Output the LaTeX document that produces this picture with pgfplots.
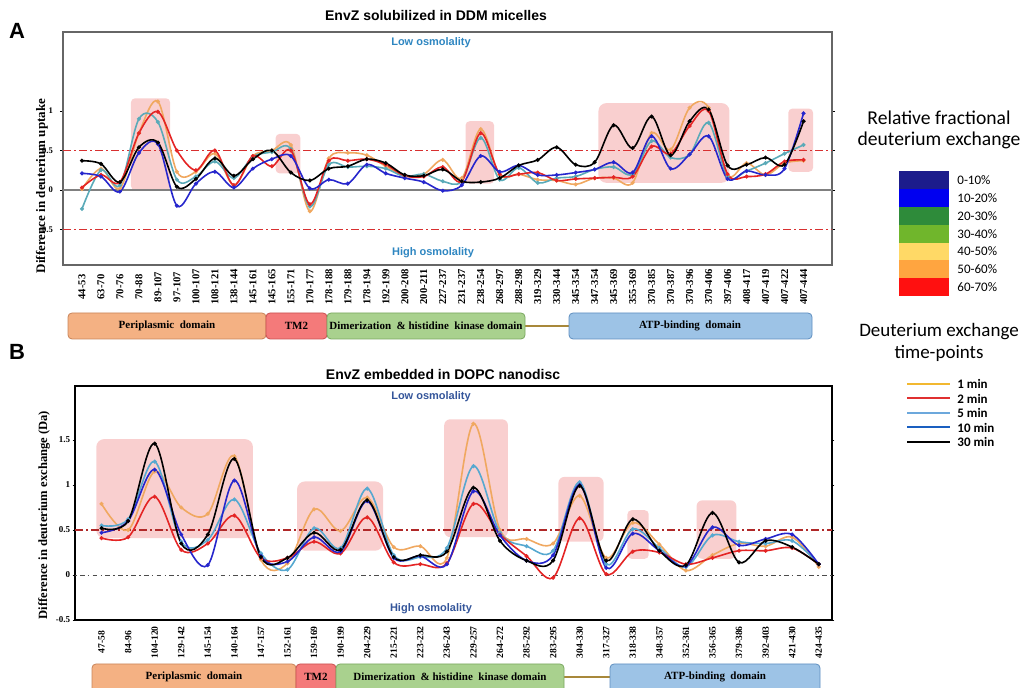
\documentclass[border=0pt]{standalone}
\usepackage{pgfplots}
\pgfplotsset{compat=1.18}
\usepackage{fontspec}
\setmainfont{Liberation Serif}
\newfontfamily\arialf{Liberation Sans}
\newfontfamily\calf{Carlito}
\definecolor{cOr}{HTML}{F0A860}
\definecolor{cRd}{HTML}{E42424}
\definecolor{cTl}{HTML}{5AAAB8}
\definecolor{cBl}{HTML}{2626CC}
\definecolor{cTlB}{HTML}{56A8D0}
\definecolor{cPink}{HTML}{F9CFCF}
\definecolor{cDash}{HTML}{D83030}
\definecolor{cDashB}{HTML}{B02828}
\definecolor{cLowA}{HTML}{2E86C1}
\definecolor{cLowB}{HTML}{34559A}
\definecolor{dPeri}{HTML}{F4B183}
\definecolor{dPeriB}{HTML}{C8845A}
\definecolor{dTM}{HTML}{F47A7A}
\definecolor{dTMB}{HTML}{C85050}
\definecolor{dDim}{HTML}{A9D18E}
\definecolor{dDimB}{HTML}{7AA860}
\definecolor{dATP}{HTML}{9DC3E6}
\definecolor{dATPB}{HTML}{5F8FC0}
\definecolor{dLink}{HTML}{A8883A}
\definecolor{lA}{HTML}{1C1C8C}
\definecolor{lB}{HTML}{0000F0}
\definecolor{lC}{HTML}{2E8B3A}
\definecolor{lD}{HTML}{70B62C}
\definecolor{lE}{HTML}{FFD966}
\definecolor{lF}{HTML}{FFA540}
\definecolor{lG}{HTML}{FF1010}
\definecolor{t1}{HTML}{F2B830}
\definecolor{t2}{HTML}{E03030}
\definecolor{t5}{HTML}{6CA8DC}
\definecolor{t10}{HTML}{1A5FC0}
\pgfplotsset{ser/.style={smooth, tension=0.55, line width=0.8pt, mark=*, mark size=0.55pt}}
\begin{document}
\begin{tikzpicture}
\useasboundingbox (0,0) rectangle (510.5pt,344pt);
% ---------------- Panel A ----------------
\begin{axis}[
 at={(31.5pt,211.5pt)}, anchor=south west, scale only axis,
 width=384.5pt, height=116.5pt,
 xmin=-1, xmax=39.5, ymin=-0.95, ymax=2.0,
 axis line style={draw=gray!80!black, line width=0.6pt},
 xtick={0,...,38},
 xticklabels={44-53,63-70,70-76,70-88,89-107,97-107,100-107,108-121,138-144,145-161,145-165,155-171,170-177,178-188,179-188,178-194,192-199,200-208,200-211,227-237,231-237,238-254,268-297,288-298,319-329,330-344,345-354,347-354,345-369,355-369,370-385,370-387,370-396,370-406,397-406,408-417,407-419,407-422,407-444},
 xtick style={draw=none},
 ytick={-0.5,0,0.5,1}, yticklabels={-0.5,0,0.5,1},
 ytick style={black, line width=0.3pt}, tick align=outside, major tick length=1.5pt,
 yticklabel style={font=\fontsize{4.3}{4.5}\selectfont\bfseries},
 xticklabel style={font=\fontsize{5.3}{6}\selectfont\bfseries, yshift=-9.5pt, rotate=90, anchor=center},
]
\fill[cPink, rounded corners=2pt] (axis cs:2.58,0) rectangle (axis cs:4.64,1.16);
\fill[cPink, rounded corners=2pt] (axis cs:10.2,0.21) rectangle (axis cs:11.5,0.71);
\fill[cPink, rounded corners=2pt] (axis cs:20.2,0.08) rectangle (axis cs:21.7,0.87);
\fill[cPink, rounded corners=4pt] (axis cs:27.2,0.09) rectangle (axis cs:34.1,1.10);
\fill[cPink, rounded corners=2pt] (axis cs:37.2,0.23) rectangle (axis cs:38.5,1.03);
\draw[draw=gray, line width=0.6pt] (axis cs:-1,0) -- (axis cs:39.5,0);
\draw[draw=cDash, line width=0.85pt, dash pattern=on 4pt off 1.5pt on 1pt off 1.5pt] (axis cs:-1,0.5) -- (axis cs:39.5,0.5);
\draw[draw=cDash, line width=0.85pt, dash pattern=on 4pt off 1.5pt on 1pt off 1.5pt] (axis cs:-1,-0.5) -- (axis cs:39.5,-0.5);
% 1 min
\addplot[ser, cOr] coordinates {(0,0.01)(1,0.27)(2,0.02)(3,0.72)(4,1.12)(5,0.23)(6,0.23)(7,0.46)(8,0.06)(9,0.43)(10,0.50)(11,0.57)(12,-0.27)(13,0.40)(14,0.47)(15,0.44)(16,0.30)(17,0.18)(18,0.20)(19,0.38)(20,0.15)(21,0.77)(22,0.19)(23,0.20)(24,0.13)(25,0.12)(26,0.07)(27,0.15)(28,0.15)(29,0.09)(30,0.72)(31,0.51)(32,1.04)(33,1.04)(34,0.19)(35,0.34)(36,0.19)(37,0.34)(38,0.37)};
% 5 min
\addplot[ser, cTl] coordinates {(0,-0.24)(1,0.25)(2,0.06)(3,0.90)(4,0.86)(5,0.13)(6,0.17)(7,0.36)(8,0.15)(9,0.42)(10,0.48)(11,0.52)(12,-0.21)(13,0.32)(14,0.29)(15,0.30)(16,0.27)(17,0.17)(18,0.20)(19,0.11)(20,0.11)(21,0.66)(22,0.13)(23,0.28)(24,0.09)(25,0.15)(26,0.17)(27,0.26)(28,0.29)(29,0.20)(30,0.62)(31,0.41)(32,0.45)(33,0.85)(34,0.17)(35,0.24)(36,0.34)(37,0.46)(38,0.57)};
% 2 min
\addplot[ser, cRd] coordinates {(0,0.03)(1,0.19)(2,0.10)(3,0.72)(4,0.99)(5,0.50)(6,0.25)(7,0.50)(8,0.06)(9,0.43)(10,0.30)(11,0.50)(12,-0.18)(13,0.37)(14,0.37)(15,0.39)(16,0.32)(17,0.18)(18,0.17)(19,0.29)(20,0.11)(21,0.72)(22,0.20)(23,0.20)(24,0.22)(25,0.12)(26,0.14)(27,0.15)(28,0.16)(29,0.17)(30,0.55)(31,0.46)(32,0.81)(33,1.00)(34,0.20)(35,0.17)(36,0.20)(37,0.36)(38,0.38)};
% 10 min
\addplot[ser, cBl] coordinates {(0,0.21)(1,0.17)(2,-0.02)(3,0.47)(4,0.58)(5,-0.20)(6,0.08)(7,0.23)(8,0.03)(9,0.27)(10,0.39)(11,0.43)(12,0.02)(13,0.13)(14,0.08)(15,0.32)(16,0.21)(17,0.15)(18,0.10)(19,-0.01)(20,0.06)(21,0.43)(22,0.23)(23,0.31)(24,0.19)(25,0.19)(26,0.22)(27,0.26)(28,0.35)(29,0.22)(30,0.68)(31,0.27)(32,0.45)(33,0.68)(34,0.14)(35,0.24)(36,0.19)(37,0.27)(38,0.97)};
% 30 min
\addplot[ser, black] coordinates {(0,0.37)(1,0.33)(2,0.10)(3,0.54)(4,0.60)(5,0.04)(6,0.14)(7,0.40)(8,0.18)(9,0.39)(10,0.50)(11,0.22)(12,0.12)(13,0.27)(14,0.30)(15,0.39)(16,0.34)(17,0.19)(18,0.18)(19,0.26)(20,0.11)(21,0.10)(22,0.15)(23,0.31)(24,0.38)(25,0.54)(26,0.32)(27,0.35)(28,0.82)(29,0.53)(30,0.93)(31,0.44)(32,0.87)(33,1.02)(34,0.31)(35,0.32)(36,0.41)(37,0.32)(38,0.87)};
\end{axis}
% ---------------- Panel B ----------------
\begin{axis}[
 at={(37.5pt,34pt)}, anchor=south west, scale only axis,
 width=378.5pt, height=117pt,
 xmin=-1, xmax=27.5, ymin=-0.5, ymax=2.1,
 axis line style={draw=black, line width=0.8pt},
 xtick={0,...,27},
 xticklabels={47-58,84-96,104-120,129-142,145-154,140-164,147-157,152-161,159-169,190-199,204-229,215-221,223-232,236-243,229-257,264-272,285-292,283-295,304-330,317-327,318-338,348-357,352-361,356-365,379-386,392-403,421-430,424-435},
 xtick style={draw=none},
 ytick={-0.5,0,0.5,1,1.5}, yticklabels={-0.5,0,0.5,1,1.5},
 ytick style={black, line width=0.3pt}, tick align=outside, major tick length=1.2pt,
 yticklabel style={font=\fontsize{4.5}{4.5}\selectfont\bfseries, inner sep=1pt},
 xticklabel style={font=\fontsize{4.8}{5}\selectfont\bfseries, yshift=-10pt, rotate=90, anchor=center},
]
\fill[cPink, rounded corners=4pt] (axis cs:-0.2,0.41) rectangle (axis cs:5.7,1.51);
\fill[cPink, rounded corners=4pt] (axis cs:7.36,0.27) rectangle (axis cs:10.6,1.04);
\fill[cPink, rounded corners=3pt] (axis cs:12.9,0.42) rectangle (axis cs:15.3,1.73);
\fill[cPink, rounded corners=3pt] (axis cs:17.2,0.37) rectangle (axis cs:18.9,1.09);
\fill[cPink, rounded corners=2pt] (axis cs:19.8,0.18) rectangle (axis cs:20.6,0.72);
\fill[cPink, rounded corners=3pt] (axis cs:22.4,0.18) rectangle (axis cs:23.9,0.83);
\draw[draw=gray!60!black, line width=0.4pt, dash pattern=on 0.8pt off 1.6pt on 2.4pt off 1.6pt] (axis cs:-1,0) -- (axis cs:27.5,0);
\draw[draw=cDashB, line width=0.8pt, dash pattern=on 4pt off 1.5pt on 1pt off 1.5pt] (axis cs:-1,0.5) -- (axis cs:27.5,0.5);
% 1 min
\addplot[ser, cOr] coordinates {(0,0.79)(1,0.50)(2,1.15)(3,0.75)(4,0.68)(5,1.32)(6,0.17)(7,0.13)(8,0.73)(9,0.49)(10,0.86)(11,0.31)(12,0.32)(13,0.19)(14,1.68)(15,0.50)(16,0.40)(17,0.35)(18,0.88)(19,0.19)(20,0.58)(21,0.34)(22,0.05)(23,0.22)(24,0.35)(25,0.32)(26,0.42)(27,0.09)};
% 5 min
\addplot[ser, cTlB] coordinates {(0,0.55)(1,0.62)(2,1.26)(3,0.37)(4,0.39)(5,0.84)(6,0.24)(7,0.06)(8,0.52)(9,0.30)(10,0.96)(11,0.22)(12,0.20)(13,0.30)(14,1.21)(15,0.47)(16,0.32)(17,0.27)(18,1.03)(19,0.12)(20,0.51)(21,0.30)(22,0.09)(23,0.44)(24,0.37)(25,0.35)(26,0.38)(27,0.12)};
% 2 min
\addplot[ser, cRd] coordinates {(0,0.41)(1,0.42)(2,0.87)(3,0.28)(4,0.35)(5,0.66)(6,0.19)(7,0.19)(8,0.37)(9,0.24)(10,0.64)(11,0.14)(12,0.12)(13,0.13)(14,0.79)(15,0.45)(16,0.21)(17,-0.03)(18,0.63)(19,0.01)(20,0.26)(21,0.25)(22,0.12)(23,0.19)(24,0.27)(25,0.27)(26,0.30)(27,0.12)};
% 10 min
\addplot[ser, cBl] coordinates {(0,0.47)(1,0.60)(2,1.17)(3,0.45)(4,0.11)(5,1.05)(6,0.21)(7,0.15)(8,0.42)(9,0.26)(10,0.82)(11,0.19)(12,0.21)(13,0.12)(14,0.93)(15,0.44)(16,0.16)(17,0.22)(18,1.00)(19,0.08)(20,0.46)(21,0.27)(22,0.10)(23,0.53)(24,0.33)(25,0.40)(26,0.45)(27,0.12)};
% 30 min
\addplot[ser, black] coordinates {(0,0.52)(1,0.60)(2,1.46)(3,0.35)(4,0.45)(5,1.29)(6,0.20)(7,0.19)(8,0.47)(9,0.28)(10,0.83)(11,0.20)(12,0.22)(13,0.26)(14,0.97)(15,0.38)(16,0.16)(17,0.16)(18,0.99)(19,0.16)(20,0.62)(21,0.27)(22,0.11)(23,0.69)(24,0.14)(25,0.38)(26,0.31)(27,0.12)};
\end{axis}
% ---------------- annotations in pixel units ----------------
\begin{scope}[x=0.5pt, y=-0.5pt, shift={(0pt,344pt)}]
\node[font=\arialf\bfseries\fontsize{11}{12}\selectfont] at (17,31) {A};
\node[font=\arialf\bfseries\fontsize{11}{12}\selectfont] at (17,352) {B};
\node[font=\arialf\bfseries\fontsize{7}{8}\selectfont] at (436,16) {EnvZ solubilized in DDM micelles};
\node[font=\arialf\bfseries\fontsize{7}{8}\selectfont] at (443,375) {EnvZ embedded in DOPC nanodisc};
\node[font=\arialf\bfseries\fontsize{5.5}{6}\selectfont, text=cLowA] at (431,43) {Low osmolality};
\node[font=\arialf\bfseries\fontsize{5.5}{6}\selectfont, text=cLowA] at (433,253) {High osmolality};
\node[font=\arialf\bfseries\fontsize{5.5}{6}\selectfont, text=cLowB] at (431,397) {Low osmolality};
\node[font=\arialf\bfseries\fontsize{5.5}{6}\selectfont, text=cLowB] at (431,609) {High osmolality};
\node[rotate=90, font=\bfseries\fontsize{6.5}{7}\selectfont] at (42,186) {Difference in deuterium uptake};
\node[rotate=90, font=\bfseries\fontsize{6.3}{7}\selectfont] at (44,515) {Difference in deuterium exchange (Da)};
% domain bars A
\draw[dLink, line width=0.7pt] (520,326) -- (575,326);
\draw[fill=dPeri, draw=dPeriB, line width=0.4pt, rounded corners=2pt] (68,313) rectangle (266,339);
\draw[fill=dTM, draw=dTMB, line width=0.4pt, rounded corners=2pt] (266,313) rectangle (327,339);
\draw[fill=dDim, draw=dDimB, line width=0.4pt, rounded corners=2pt] (327,313) rectangle (525,339);
\draw[fill=dATP, draw=dATPB, line width=0.4pt, rounded corners=2pt] (569,313) rectangle (812,339);
\node[font=\bfseries\fontsize{5.5}{6}\selectfont] at (167,326) {Periplasmic\ \ domain};
\node[font=\bfseries\fontsize{5.5}{6}\selectfont] at (296.5,326) {TM2};
\node[font=\bfseries\fontsize{5.5}{6}\selectfont] at (426,326) {Dimerization\ \ \& histidine\ \ kinase domain};
\node[font=\bfseries\fontsize{5.5}{6}\selectfont] at (690,326) {ATP-binding\ \ domain};
% domain bars B
\draw[dLink, line width=0.7pt] (556,677) -- (616,677);
\draw[fill=dPeri, draw=dPeriB, line width=0.4pt, rounded corners=2pt] (92,664) rectangle (296,700);
\draw[fill=dTM, draw=dTMB, line width=0.4pt, rounded corners=2pt] (296,664) rectangle (336,700);
\draw[fill=dDim, draw=dDimB, line width=0.4pt, rounded corners=2pt] (336,664) rectangle (564,700);
\draw[fill=dATP, draw=dATPB, line width=0.4pt, rounded corners=2pt] (610,664) rectangle (820,700);
\node[font=\bfseries\fontsize{5.5}{6}\selectfont] at (194,677) {Periplasmic\ \ domain};
\node[font=\bfseries\fontsize{5.5}{6}\selectfont] at (316,677) {TM2};
\node[font=\bfseries\fontsize{5.5}{6}\selectfont] at (450,677) {Dimerization\ \ \& histidine\ \ kinase domain};
\node[font=\bfseries\fontsize{5.5}{6}\selectfont] at (715,677) {ATP-binding\ \ domain};
% legend 1
\node[font=\calf\fontsize{9.8}{11}\selectfont] at (939,118) {Relative fractional};
\node[font=\calf\fontsize{9.8}{11}\selectfont] at (939,140) {deuterium exchange};
\foreach \c/\t [count=\i from 0] in {lA/0-10\%,lB/10-20\%,lC/20-30\%,lD/30-40\%,lE/40-50\%,lF/50-60\%,lG/60-70\%}{
  \fill[\c] (899,{171+17.9*\i}) rectangle (949,{171+17.9*(\i+1)});
  \node[font=\calf\fontsize{6.5}{7}\selectfont, anchor=west, inner sep=0pt] at (957,{180+17.9*\i}) {\t};
}
% legend 2
\node[font=\calf\fontsize{9.5}{11}\selectfont] at (939,332) {Deuterium exchange};
\node[font=\calf\fontsize{9.5}{11}\selectfont] at (939,353) {time-points};
\foreach \c/\t [count=\i from 0] in {t1/1 min,t2/2 min,t5/5 min,t10/10 min,black/30 min}{
  \draw[\c, line width=1pt] (907,{384+14.5*\i}) -- (950,{384+14.5*\i});
  \node[font=\calf\bfseries\fontsize{6.5}{7}\selectfont, anchor=west, inner sep=0pt] at (957,{384+14.5*\i}) {\t};
}
\end{scope}
\end{tikzpicture}
\end{document}
